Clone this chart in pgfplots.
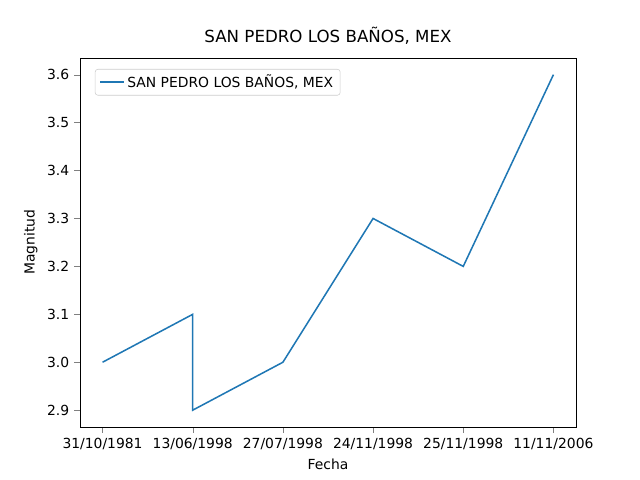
\documentclass[border=0pt]{standalone}
\usepackage{pgfplots}
\pgfplotsset{compat=1.18}
\usepackage{fontspec}
\setmainfont{DejaVu Sans}
\definecolor{mplblue}{HTML}{1F77B4}
\begin{document}
\begin{tikzpicture}
\useasboundingbox (0,0) rectangle (460.8pt,345.6pt);
\begin{axis}[
  at={(57.6pt,38.2pt)}, anchor=south west,
  scale only axis, width=357.1pt, height=265.7pt,
  xmin=-0.25, xmax=5.25, ymin=2.865, ymax=3.635,
  xtick={0,1,2,3,4,5},
  xticklabels={31/10/1981,13/06/1998,27/07/1998,24/11/1998,25/11/1998,11/11/2006},
  ytick={2.9,3.0,3.1,3.2,3.3,3.4,3.5,3.6},
  yticklabel style={/pgf/number format/.cd,fixed,fixed zerofill,precision=1},
  /pgf/number format/assume math mode=true,
  tick align=outside, tick pos=left,
  ticklabel style={font=\fontsize{10}{12}\selectfont},
  xlabel={Fecha}, ylabel={Magnitud},
  label style={font=\fontsize{10}{12}\selectfont},
  title={SAN PEDRO LOS BAÑOS, MEX},
  title style={font=\fontsize{12}{14}\selectfont},
  legend pos=north west,
  legend style={font=\fontsize{10}{12}\selectfont, draw=black!20, rounded corners=2pt},
  legend cell align=left,
]
\addplot[mplblue, line width=1.1pt, mark=none] coordinates {
(0,3.0) (1,3.1) (1,2.9) (2,3.0) (3,3.3) (4,3.2) (5,3.6)};
\addlegendentry{SAN PEDRO LOS BAÑOS, MEX}
\end{axis}
\end{tikzpicture}
\end{document}
